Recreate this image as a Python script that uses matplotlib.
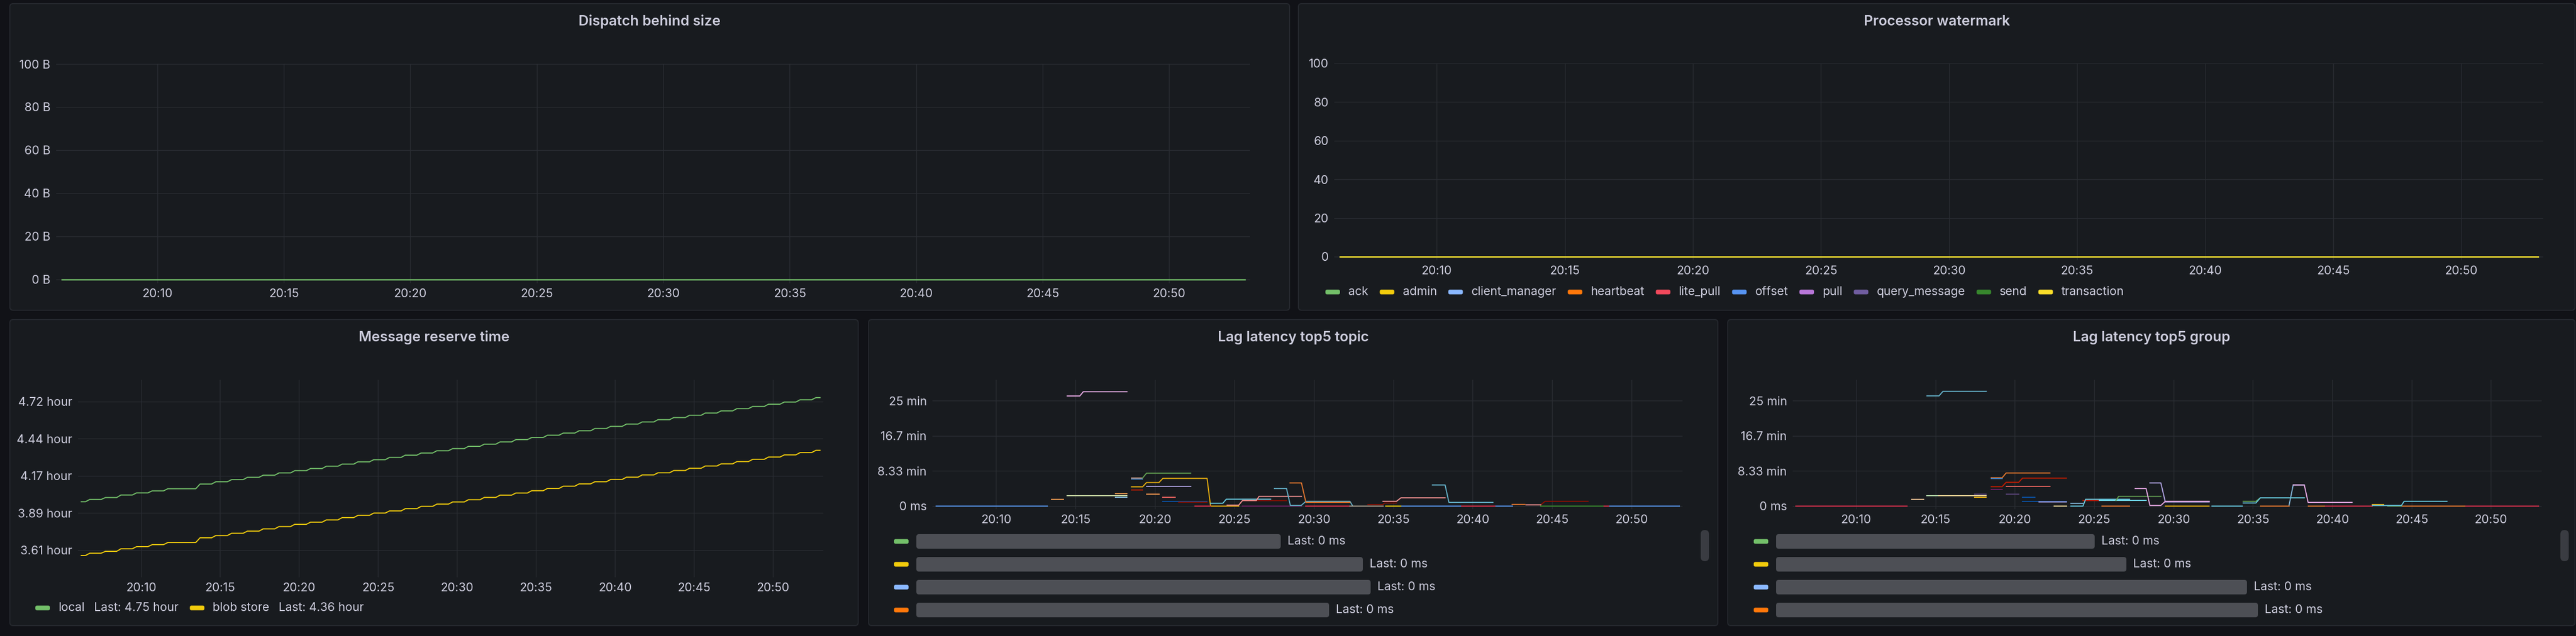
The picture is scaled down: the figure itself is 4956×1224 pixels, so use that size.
import numpy as np
import matplotlib
matplotlib.use("Agg")
import matplotlib.pyplot as plt
from matplotlib.patches import FancyBboxPatch

plt.rcParams['font.family'] = ['Inter', 'DejaVu Sans']

NA = np.nan

# ---------------- data ----------------
time_ticks = [10, 15, 20, 25, 30, 35, 40, 45, 50]          # minutes after 20:00
time_labels = ["20:10", "20:15", "20:20", "20:25", "20:30", "20:35", "20:40", "20:45", "20:50"]

# Dispatch behind size (bytes)
dispatch_t = [6.22, 53.0]
dispatch_v = [0, 0]
dispatch_ticks = [0, 20, 40, 60, 80, 100]
dispatch_labels = ["0 B", "20 B", "40 B", "60 B", "80 B", "100 B"]

# Processor watermark
watermark_names = ["ack", "admin", "client_manager", "heartbeat", "lite_pull", "offset",
                   "pull", "query_message", "send", "transaction"]
watermark_colors = ["#73BF69", "#F2CC0C", "#8AB8FF", "#FF780A", "#F2495C", "#5794F2",
                    "#B877D9", "#705DA0", "#37872D", "#FADE2A"]
watermark_t = [6.22, 53.0]
watermark_v = [0, 0]
watermark_ticks = [0, 20, 40, 60, 80, 100]

# Message reserve time (hours); step start times in minutes after 20:00
reserve_step_t = [6.21, 6.48, 7.47, 8.45, 9.44, 10.43, 11.42, 13.46,
                  14.46, 15.46, 16.46, 17.46, 18.46, 19.46, 20.46, 21.46, 22.46, 23.46,
                  24.46, 25.46, 26.46, 27.46, 28.46, 29.46, 30.46, 31.46, 32.46, 33.46,
                  34.46, 35.46, 36.46, 37.46, 38.46, 39.46, 40.46, 41.46, 42.46, 43.46,
                  44.46, 45.46, 46.46, 47.46, 48.46, 49.46, 50.46, 51.46, 52.46]
reserve_end_t = 52.99
reserve_local = [3.974, 3.991, 4.005, 4.024, 4.040, 4.055, 4.071, 4.106,
                 4.123, 4.139, 4.156, 4.172, 4.189, 4.206, 4.222, 4.239, 4.255, 4.272,
                 4.288, 4.305, 4.322, 4.338, 4.355, 4.371, 4.388, 4.404, 4.421, 4.438,
                 4.454, 4.471, 4.487, 4.504, 4.521, 4.537, 4.554, 4.570, 4.587, 4.603,
                 4.620, 4.637, 4.653, 4.670, 4.686, 4.703, 4.719, 4.736, 4.752]
reserve_blob = [3.572, 3.589, 3.603, 3.622, 3.638, 3.653, 3.669, 3.704,
                3.721, 3.738, 3.754, 3.771, 3.788, 3.805, 3.821, 3.838, 3.855, 3.872,
                3.889, 3.905, 3.922, 3.939, 3.956, 3.972, 3.989, 4.006, 4.023, 4.039,
                4.056, 4.073, 4.090, 4.107, 4.123, 4.140, 4.157, 4.174, 4.190, 4.207,
                4.224, 4.241, 4.257, 4.274, 4.291, 4.308, 4.324, 4.341, 4.358]
reserve_tick_seconds = [13000, 14000, 15000, 16000, 17000]

# Lag latency top5 topic (values in minutes)
topic_blue_t = [6.22, 13.22, NA, 35.5, 39.3, NA, 41.4, 42.5, NA, 48.54, 53.0]
topic_blue_v = [0, 0, NA, 0, 0, NA, 0, 0, NA, 0, 0]
topic_orange_t = [13.50, 14.25, NA, 17.50, 18.24, NA, 19.47, 20.25]
topic_orange_v = [1.64, 1.64, NA, 2.96, 2.96, NA, 2.87, 2.87]
topic_pink_t = [14.48, 15.27, 15.49, 18.24]
topic_pink_v = [26.1, 26.1, 27.1, 27.1]
topic_olive_t = [14.48, 18.24]
topic_olive_v = [2.44, 2.44]
topic_lightblue_t = [17.50, 18.24]
topic_lightblue_v = [2.1, 2.1]
topic_tan_t = [18.52, 19.22]
topic_tan_v = [6.65, 6.65]
topic_steel_t = [18.52, 19.22]
topic_steel_v = [6.4, 6.4]
topic_green_t = [19.22, 19.47, 22.25]
topic_green_v = [6.65, 7.8, 7.8]
topic_yellow_t = [18.52, 19.22, 19.47, 20.25, 20.50, 23.28, 23.50, 25.27]
topic_yellow_v = [4.56, 4.56, 5.58, 5.58, 6.57, 6.57, 0, 0]
topic_red_t = [18.52, 19.22]
topic_red_v = [3.86, 3.86]
topic_lavender_t = [19.47, 22.25]
topic_lavender_v = [4.68, 4.68]
topic_salmon_t = [20.50, 21.27]
topic_salmon_v = [2.1, 2.1]
topic_darkblue_t = [20.50, 23.28]
topic_darkblue_v = [1.1, 1.1]
topic_darkred_t = [21.49, 23.28, NA, 25.55, 28.28, NA, 33.4, 34.35, 34.45, 35.2, NA, 44.28, 44.55, 47.26]
topic_darkred_v = [0.92, 0.92, NA, 1.3, 1.3, NA, 0.34, 0.34, 0.74, 0.74, NA, 0.3, 1.13, 1.13]
topic_crimson_t = [22.52, 23.5, NA, 29.5, 32.27, NA, 39.3, 41.4, NA, 48.2, 48.54]
topic_crimson_v = [0, 0, NA, 0, 0, NA, 0, 0, NA, 0, 0]
topic_cyan_t = [23.50, 24.27, 24.49, 27.28]
topic_cyan_v = [0.66, 0.66, 1.64, 1.64]
topic_peach_t = [24.54, 25.27, 25.51, 26.38, 26.55, 29.22, NA, 34.35, 35.2, 35.48, 38.26, NA, 43.35, 44.28]
topic_peach_v = [0.22, 0.22, 1.32, 1.32, 2.3, 2.3, NA, 1.13, 1.13, 1.96, 1.96, NA, 0.3, 0.3]
topic_purple_t = [25.51, 29.22]
topic_purple_v = [0, 0]
topic_teal_t = [27.52, 28.28, 28.52, 29.2, 29.5, 32.27, 32.45, NA, 37.46, 38.26, 38.5, 41.27]
topic_teal_v = [4.17, 4.17, 0.15, 0.15, 1.13, 1.13, 0, NA, 5.0, 5.0, 0.88, 0.88]
topic_orange2_t = [28.5, 29.22, 29.5, 32.27, NA, 42.48, 43.28]
topic_orange2_v = [5.49, 5.49, 0.88, 0.88, NA, 0.39, 0.39]
topic_gray_t = [32.27, 34.35]
topic_gray_v = [0, 0]
topic_yellow0_t = [34.52, 35.48]
topic_yellow0_v = [0, 0]
topic_darkgreen_t = [44.28, 48.2]
topic_darkgreen_v = [0, 0]

# Lag latency top5 group (values in minutes)
group_crimson_t = [6.19, 13.22, NA, 39.52, 42.53, NA, 48.34, 53.0]
group_crimson_v = [0, 0, NA, 0, 0, NA, 0, 0]
group_peach_t = [13.49, 14.26]
group_peach_v = [1.62, 1.62]
group_cyantop_t = [14.46, 15.22, 15.47, 18.20]
group_cyantop_v = [26.13, 26.13, 27.2, 27.2]
group_lightgreen_t = [14.46, 15.22]
group_lightgreen_v = [2.5, 2.5]
group_paleyellow_t = [15.22, 18.20, NA, 22.49, 23.25]
group_paleyellow_v = [2.5, 2.5, NA, 0, 0]
group_purple_t = [17.47, 18.20, NA, 19.45, 20.24]
group_purple_v = [2.84, 2.84, NA, 2.84, 2.84]
group_yellow_t = [17.47, 18.20, NA, 29.48, 32.25, NA, 42.53, 43.25]
group_yellow_v = [2.11, 2.11, NA, 0, 0, NA, 0.39, 0.39]
group_orange_t = [18.51, 19.20, 19.45, 22.21]
group_orange_v = [6.72, 6.72, 7.84, 7.84]
group_steel_t = [18.51, 19.20]
group_steel_v = [6.47, 6.47]
group_red_t = [18.51, 19.20, 19.45, 20.24, 20.48, 23.25, NA, 24.29, 25.33]
group_red_v = [4.61, 4.61, 5.64, 5.64, 6.62, 6.62, NA, 1.32, 1.32]
group_salmon_t = [19.45, 22.21]
group_salmon_v = [4.66, 4.66]
group_darkpurple_t = [18.51, 19.20]
group_darkpurple_v = [3.92, 3.92]
group_blue1_t = [20.48, 21.25]
group_blue1_v = [2.11, 2.11]
group_blue2_t = [20.48, 23.25]
group_blue2_v = [1.13, 1.13]
group_lavender_t = [21.52, 23.25, NA, 28.51, 29.20, 29.48, 32.25]
group_lavender_v = [0.98, 0.98, NA, 5.49, 5.49, 0.98, 0.98]
group_lightblue_t = [23.53, 24.29, NA, 37.27, 37.54, 38.24]
group_lightblue_v = [0.64, 0.64, NA, 0, 5.0, 5.0]
group_cyan_t = [23.53, 24.29, 24.46, 27.23]
group_cyan_v = [0, 0, 1.62, 1.62]
group_cyan2_t = [25.33, 28.27]
group_cyan2_v = [1.32, 1.32]
group_orange0_t = [25.50, 27.23, NA, 35.47, 37.27, NA, 38.48, 39.52, NA, 44.36, 48.34]
group_orange0_v = [0, 0, NA, 0, 0, NA, 0, 0, NA, 0, 0]
group_green_t = [26.37, 26.54, 29.20, NA, 34.39, 35.19, 35.47, 38.24, NA, 43.50, 44.36]
group_green_v = [1.32, 2.30, 2.30, NA, 1.13, 1.13, 1.96, 1.96, NA, 0, 0]
group_pink_t = [27.58, 28.27, 28.51, 29.20, 29.48, 32.25, NA, 37.54, 38.24, 38.48, 41.25]
group_pink_v = [4.17, 4.17, 0.15, 0.15, 1.13, 1.13, NA, 5.0, 5.0, 0.88, 0.88]
group_cyan3_t = [32.42, 34.33, NA, 34.39, 35.19, 35.47, 38.24, NA, 42.53, 44.36, 44.53, 47.23]
group_cyan3_v = [0, 0, NA, 0.74, 0.74, 1.96, 1.96, NA, 0.15, 0.15, 1.13, 1.13]

lag_ticks_min = [0, 500 / 60, 1000 / 60, 1500 / 60]
lag_labels = ["0 ms", "8.33 min", "16.7 min", "25 min"]
lag_legend_colors = ["#73BF69", "#F2CC0C", "#8AB8FF", "#FF780A"]
lag_legend_last = ["Last: 0 ms", "Last: 0 ms", "Last: 0 ms", "Last: 0 ms"]
topic_legend_blur_w = [701, 859, 874, 794]
group_legend_blur_w = [613, 674, 906, 927]

# ---------------- styling ----------------
W, H = 4956, 1224
PAGE = "#111217"
PANEL = "#181b1f"
BORDER = "#25282e"
GRID = "#2a2d33"
TEXT = "#ccccdc"
TICK_FS = 16.5
TITLE_FS = 19.5

fig = plt.figure(figsize=(W / 100, H / 100), dpi=100, facecolor=PAGE)
bg = fig.add_axes([0, 0, 1, 1])
bg.set_xlim(0, W)
bg.set_ylim(H, 0)
bg.axis("off")


def panel(x0, y0, x1, y1, title):
    bg.add_patch(FancyBboxPatch((x0, y0), x1 - x0, y1 - y0,
                                boxstyle="round,pad=0,rounding_size=6",
                                fc=PANEL, ec=BORDER, lw=1.5))
    bg.text((x0 + x1) / 2, y0 + 42, title, color=TEXT, fontsize=TITLE_FS,
            fontweight="semibold", ha="center", va="baseline")


def make_ax(x0, y0, x1, y1, ylim):
    ax = fig.add_axes([x0 / W, 1 - y1 / H, (x1 - x0) / W, (y1 - y0) / H])
    ax.set_facecolor("none")
    for s in ax.spines.values():
        s.set_visible(False)
    ax.set_xlim(6.0, 53.2)
    ax.set_ylim(*ylim)
    ax.set_xticks(time_ticks)
    ax.set_xticklabels(time_labels)
    ax.tick_params(axis="both", length=0, colors=TEXT, labelsize=TICK_FS)
    ax.tick_params(axis="y", pad=8)
    ax.tick_params(axis="x", pad=7)
    ax.grid(True, color=GRID, lw=1.0)
    ax.set_axisbelow(True)
    return ax


def swatch(x, y, color):
    bg.add_patch(FancyBboxPatch((x, y - 4.5), 28, 9, boxstyle="round,pad=0,rounding_size=3",
                                fc=color, ec="none"))


renderer = fig.canvas.get_renderer()


def text_w(t):
    return t.get_window_extent(renderer=renderer).width


def legend_row(x, y, items):
    for color, parts in items:
        swatch(x, y, color)
        x += 44
        for i, p in enumerate(parts):
            t = bg.text(x, y, p, color=TEXT, fontsize=TICK_FS, ha="left", va="center")
            x += text_w(t) + (18 if i < len(parts) - 1 else 22)


LW = 1.5

# ---- Panel A: Dispatch behind size
panel(19, 7, 2481, 597, "Dispatch behind size")
axA = make_ax(108, 123, 2405, 545, (-1.69, 100))
axA.plot(dispatch_t, dispatch_v, color="#73BF69", lw=LW + 0.3)
axA.set_yticks(dispatch_ticks)
axA.set_yticklabels(dispatch_labels)

# ---- Panel B: Processor watermark
panel(2498, 7, 4954, 597, "Processor watermark")
axB = make_ax(2567, 122, 4893, 501, (-1.9, 100))
for c in watermark_colors:
    axB.plot(watermark_t, watermark_v, color=c, lw=LW + 0.3)
axB.set_yticks(watermark_ticks)
axB.set_yticklabels([str(v) for v in watermark_ticks])
legend_row(2550, 562, [(c, [n]) for n, c in zip(watermark_names, watermark_colors)])

# ---- Panel C: Message reserve time
panel(19, 615, 1651, 1204, "Message reserve time")
axC = make_ax(150, 731, 1584, 1111, (3.409, 4.885))


def step_points(times, vals, end):
    xs, ys = [], []
    for i in range(len(times)):
        start = times[i] + (0.27 if i > 0 else 0.0)
        stop = times[i + 1] if i + 1 < len(times) else end
        xs += [start, stop]
        ys += [vals[i], vals[i]]
    return xs, ys


for vals, col in [(reserve_local, "#73BF69"), (reserve_blob, "#F2CC0C")]:
    xs, ys = step_points(reserve_step_t, vals, reserve_end_t)
    axC.plot(xs, ys, color=col, lw=LW)
axC.set_yticks([s / 3600 for s in reserve_tick_seconds])
axC.set_yticklabels([f"{s / 3600:.2f} hour" for s in reserve_tick_seconds])
legend_row(68, 1170, [("#73BF69", ["local", f"Last: {reserve_local[-1]:.2f} hour"]),
                      ("#F2CC0C", ["blob store", f"Last: {reserve_blob[-1]:.2f} hour"])])

# ---- Panel D: Lag latency top5 topic
panel(1671, 615, 3305, 1204, "Lag latency top5 topic")
axD = make_ax(1794, 731, 3237, 980, (-0.74, 29.93))
topic_series = [
    (topic_blue_t, topic_blue_v, "#5794F2"),
    (topic_olive_t, topic_olive_v, "#C9D9A4"),
    (topic_orange_t, topic_orange_v, "#F9934E"),
    (topic_lightblue_t, topic_lightblue_v, "#82B5D8"),
    (topic_pink_t, topic_pink_v, "#E5A8E2"),
    (topic_tan_t, topic_tan_v, "#D9A38A"),
    (topic_steel_t, topic_steel_v, "#447EBC"),
    (topic_green_t, topic_green_v, "#629E51"),
    (topic_yellow_t, topic_yellow_v, "#E5AC0E"),
    (topic_red_t, topic_red_v, "#BF1B00"),
    (topic_lavender_t, topic_lavender_v, "#AEA2E0"),
    (topic_salmon_t, topic_salmon_v, "#EA6460"),
    (topic_darkblue_t, topic_darkblue_v, "#0A50A1"),
    (topic_darkred_t, topic_darkred_v, "#890F02"),
    (topic_crimson_t, topic_crimson_v, "#E0314B"),
    (topic_purple_t, topic_purple_v, "#6D1F62"),
    (topic_cyan_t, topic_cyan_v, "#65C5DB"),
    (topic_peach_t, topic_peach_v, "#F29191"),
    (topic_teal_t, topic_teal_v, "#64B0C8"),
    (topic_orange2_t, topic_orange2_v, "#E0752D"),
    (topic_gray_t, topic_gray_v, "#A39A8A"),
    (topic_yellow0_t, topic_yellow0_v, "#F2CC0C"),
    (topic_darkgreen_t, topic_darkgreen_v, "#37872D"),
]
for t, v, c in topic_series:
    axD.plot(t, v, color=c, lw=LW)
axD.set_yticks(lag_ticks_min)
axD.set_yticklabels(lag_labels)

# ---- Panel E: Lag latency top5 group
panel(3324, 615, 4954, 1204, "Lag latency top5 group")
axE = make_ax(3449, 731, 4890, 980, (-0.74, 29.93))
group_series = [
    (group_crimson_t, group_crimson_v, "#D7304B"),
    (group_peach_t, group_peach_v, "#F9BA8F"),
    (group_cyantop_t, group_cyantop_v, "#64B0C8"),
    (group_lightgreen_t, group_lightgreen_v, "#B7DBAB"),
    (group_paleyellow_t, group_paleyellow_v, "#F4D598"),
    (group_purple_t, group_purple_v, "#584477"),
    (group_yellow_t, group_yellow_v, "#E5AC0E"),
    (group_orange_t, group_orange_v, "#E0752D"),
    (group_steel_t, group_steel_v, "#447EBC"),
    (group_red_t, group_red_v, "#BF1B00"),
    (group_salmon_t, group_salmon_v, "#EA6460"),
    (group_darkpurple_t, group_darkpurple_v, "#6D1F62"),
    (group_blue1_t, group_blue1_v, "#0A50A1"),
    (group_blue2_t, group_blue2_v, "#0A50A1"),
    (group_lavender_t, group_lavender_v, "#AEA2E0"),
    (group_lightblue_t, group_lightblue_v, "#82B5D8"),
    (group_cyan_t, group_cyan_v, "#65C5DB"),
    (group_cyan2_t, group_cyan2_v, "#70DBED"),
    (group_orange0_t, group_orange0_v, "#E0752D"),
    (group_green_t, group_green_v, "#629E51"),
    (group_pink_t, group_pink_v, "#E5A8E2"),
    (group_cyan3_t, group_cyan3_v, "#65C5DB"),
]
for t, v, c in group_series:
    axE.plot(t, v, color=c, lw=LW)
axE.set_yticks(lag_ticks_min)
axE.set_yticklabels(lag_labels)


def lag_legend(x_sw, blur_ws):
    rows_y = [1042, 1086, 1130, 1174]
    for y, c, bw, last in zip(rows_y, lag_legend_colors, blur_ws, lag_legend_last):
        swatch(x_sw, y, c)
        bx = x_sw + 43
        bg.add_patch(FancyBboxPatch((bx, y - 14), bw, 28, boxstyle="round,pad=0,rounding_size=5",
                                    fc="#4d4f55", ec="none"))
        bg.text(bx + bw + 13, y, last, color=TEXT, fontsize=TICK_FS, ha="left", va="center")


lag_legend(1720, topic_legend_blur_w)
lag_legend(3374, group_legend_blur_w)

# scrollbars
for sx in (3272, 4926):
    bg.add_patch(FancyBboxPatch((sx, 1020), 16, 60, boxstyle="round,pad=0,rounding_size=8",
                                fc="#3a3c42", ec="none"))

fig.savefig("out.png", dpi=100, facecolor=PAGE)
